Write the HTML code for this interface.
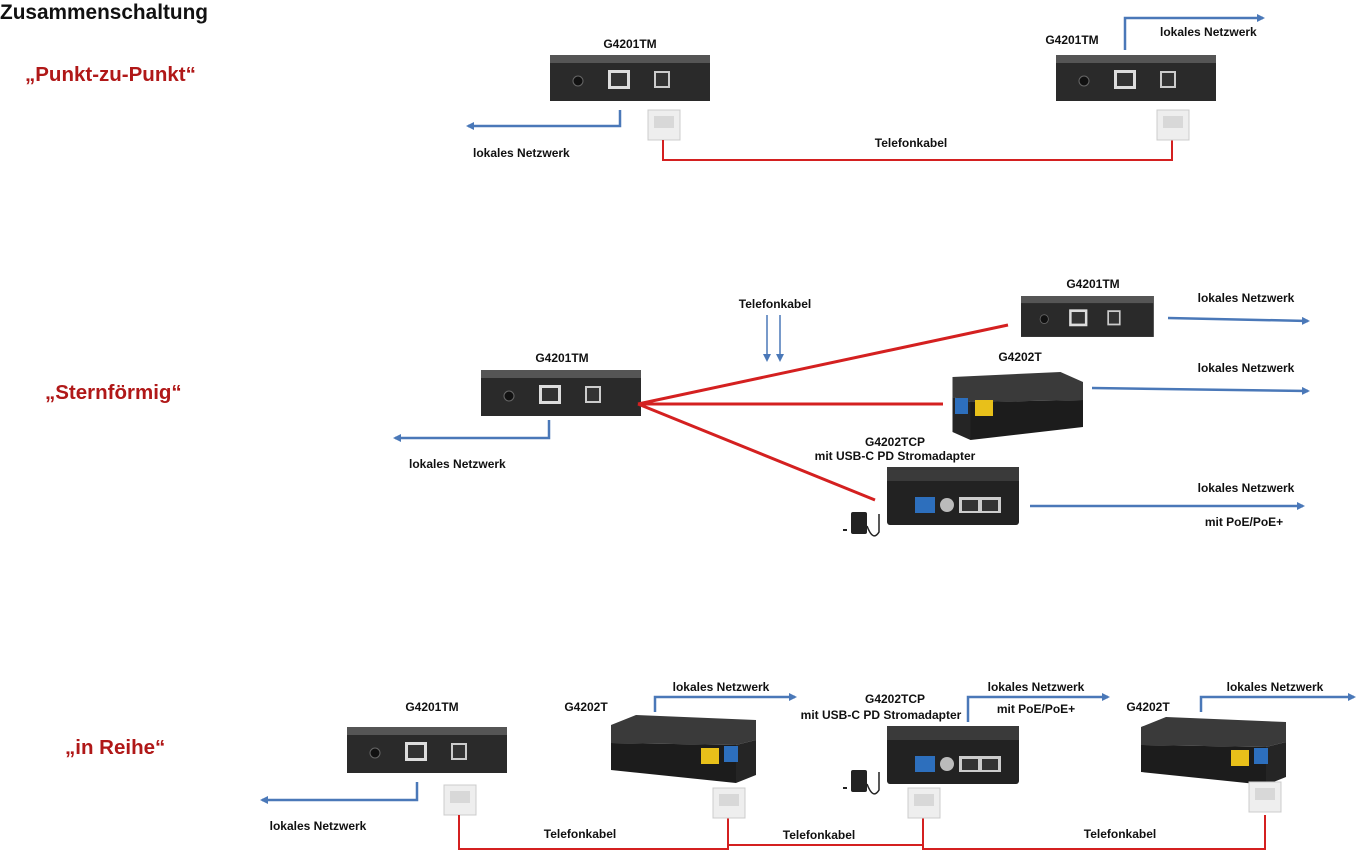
<!DOCTYPE html>
<html><head><meta charset="utf-8"><style>
html,body{margin:0;padding:0;background:#fff;width:1356px;height:855px;overflow:hidden}
svg text{font-family:"Liberation Sans",sans-serif;font-weight:bold;fill:#111}
</style></head><body>
<svg width="1356" height="855" viewBox="0 0 1356 855" xmlns="http://www.w3.org/2000/svg">
<defs>
<marker id="ab" markerWidth="8" markerHeight="8" refX="6" refY="4" orient="auto" markerUnits="userSpaceOnUse"><path d="M0,0 L8,4 L0,8 z" fill="#4a78b8"/></marker>
<g id="tm">
 <rect x="0" y="0" width="160" height="46" fill="#2a2a2a"/>
 <rect x="0" y="0" width="160" height="8" fill="#555"/>
 <circle cx="28" cy="26" r="5" fill="#111" stroke="#666"/>
 <rect x="58" y="15" width="22" height="19" fill="#ddd"/><rect x="61" y="18" width="16" height="13" fill="#333"/>
 <rect x="104" y="16" width="16" height="17" fill="#ccc"/><rect x="106" y="18" width="12" height="13" fill="#333"/>
</g>
<g id="tt">
 <polygon points="0,10 25,0 145,5 145,25 125,30 0,28" fill="#3a3a3a"/>
 <polygon points="0,28 125,30 125,68 0,55" fill="#1c1c1c"/>
 <polygon points="125,30 145,25 145,60 125,68" fill="#252525"/>
</g>
<g id="tcp">
 <rect x="0" y="0" width="132" height="58" rx="3" fill="#222"/>
 <rect x="0" y="0" width="132" height="14" fill="#3a3a3a"/>
 <rect x="28" y="30" width="20" height="16" fill="#2d6fbd"/>
 <circle cx="60" cy="38" r="7" fill="#bbb"/>
 <rect x="72" y="30" width="42" height="16" fill="#ccc"/>
 <rect x="75" y="33" width="16" height="11" fill="#333"/><rect x="95" y="33" width="16" height="11" fill="#333"/>
</g>
<g id="plug">
 <rect x="0" y="0" width="32" height="30" fill="#eee" stroke="#ccc"/>
 <rect x="6" y="6" width="20" height="12" fill="#d8d8d8"/>
</g>
<g id="adp">
 <rect x="8" y="0" width="16" height="22" rx="2" fill="#222"/>
 <line x1="4" y1="18" x2="0" y2="18" stroke="#222" stroke-width="2"/>
 <path d="M24,14 Q30,30 36,20 L36,2" stroke="#222" stroke-width="1.5" fill="none"/>
</g>
</defs>

<text x="0" y="19" font-size="20.8">Zusammenschaltung</text>
<text x="25" y="81" font-size="20.5" style="fill:#b01818">„Punkt-zu-Punkt“</text>
<text x="45" y="399" font-size="20.5" style="fill:#b01818">„Sternförmig“</text>
<text x="65" y="754" font-size="20.5" style="fill:#b01818">„in Reihe“</text>

<g font-size="12">
<text x="630" y="48" text-anchor="middle">G4201TM</text>
<use href="#tm" x="550" y="55"/>
<polyline points="620,110 620,126 468,126" stroke="#4a78b8" stroke-width="2.5" fill="none" marker-end="url(#ab)"/>
<text x="473" y="157">lokales Netzwerk</text>
<use href="#plug" x="648" y="110"/>
<polyline points="663,140 663,160 1172,160 1172,140" stroke="#d42020" stroke-width="2" fill="none"/>
<text x="911" y="147" text-anchor="middle">Telefonkabel</text>
<text x="1072" y="44" text-anchor="middle">G4201TM</text>
<use href="#tm" x="1056" y="55"/>
<polyline points="1125,50 1125,18 1263,18" stroke="#4a78b8" stroke-width="2.5" fill="none" marker-end="url(#ab)"/>
<text x="1160" y="36">lokales Netzwerk</text>
<use href="#plug" x="1157" y="110"/>

<text x="562" y="362" text-anchor="middle">G4201TM</text>
<use href="#tm" x="481" y="370"/>
<polyline points="549,420 549,438 395,438" stroke="#4a78b8" stroke-width="2.5" fill="none" marker-end="url(#ab)"/>
<text x="409" y="468">lokales Netzwerk</text>
<g stroke="#d42020" stroke-width="3"><line x1="638" y1="404" x2="1008" y2="325"/><line x1="638" y1="404" x2="943" y2="404"/><line x1="638" y1="404" x2="875" y2="500"/></g>
<text x="775" y="308" text-anchor="middle">Telefonkabel</text>
<g stroke="#4a78b8" stroke-width="1.5"><line x1="767" y1="315" x2="767" y2="358"/><line x1="780" y1="315" x2="780" y2="358"/></g>
<path d="M763,354 L767,362 L771,354z M776,354 L780,362 L784,354z" fill="#4a78b8"/>
<text x="1093" y="288" text-anchor="middle">G4201TM</text>
<use href="#tm" x="1021" y="296" transform="translate(1021 296) scale(0.83 0.89) translate(-1021 -296)"/>
<line x1="1168" y1="318" x2="1308" y2="321" stroke="#4a78b8" stroke-width="2.5" marker-end="url(#ab)"/>
<text x="1246" y="302" text-anchor="middle">lokales Netzwerk</text>
<text x="1020" y="361" text-anchor="middle">G4202T</text>
<g transform="translate(1083 372) scale(-0.9 1)"><use href="#tt"/></g>
<rect x="955" y="398" width="13" height="16" fill="#2d6fbd"/><rect x="975" y="400" width="18" height="16" fill="#e8c01a"/>
<line x1="1092" y1="388" x2="1308" y2="391" stroke="#4a78b8" stroke-width="2.5" marker-end="url(#ab)"/>
<text x="1246" y="372" text-anchor="middle">lokales Netzwerk</text>
<text x="895" y="446" text-anchor="middle">G4202TCP</text>
<text x="895" y="460" text-anchor="middle">mit USB-C PD Stromadapter</text>
<use href="#tcp" x="887" y="467"/>
<use href="#adp" x="843" y="512"/>
<line x1="1030" y1="506" x2="1303" y2="506" stroke="#4a78b8" stroke-width="2.5" marker-end="url(#ab)"/>
<text x="1246" y="492" text-anchor="middle">lokales Netzwerk</text>
<text x="1244" y="526" text-anchor="middle">mit PoE/PoE+</text>

<text x="432" y="711" text-anchor="middle">G4201TM</text>
<use href="#tm" x="347" y="727"/>
<polyline points="417,782 417,800 262,800" stroke="#4a78b8" stroke-width="2.5" fill="none" marker-end="url(#ab)"/>
<text x="318" y="830" text-anchor="middle">lokales Netzwerk</text>
<use href="#plug" x="444" y="785"/>
<polyline points="459,815 459,849 728,849 728,845 923,845 923,849 1265,849 1265,815" stroke="#d42020" stroke-width="2" fill="none"/>
<line x1="728" y1="818" x2="728" y2="849" stroke="#d42020" stroke-width="2"/>
<line x1="923" y1="818" x2="923" y2="849" stroke="#d42020" stroke-width="2"/>
<text x="580" y="838" text-anchor="middle">Telefonkabel</text>
<text x="819" y="839" text-anchor="middle">Telefonkabel</text>
<text x="1120" y="838" text-anchor="middle">Telefonkabel</text>

<text x="586" y="711" text-anchor="middle">G4202T</text>
<use href="#tt" x="611" y="715"/>
<rect x="701" y="748" width="18" height="16" fill="#e8c01a"/><rect x="724" y="746" width="14" height="16" fill="#2d6fbd"/>
<polyline points="655,712 655,697 795,697" stroke="#4a78b8" stroke-width="2.5" fill="none" marker-end="url(#ab)"/>
<text x="721" y="691" text-anchor="middle">lokales Netzwerk</text>
<use href="#plug" x="713" y="788"/>

<text x="895" y="703" text-anchor="middle">G4202TCP</text>
<text x="881" y="719" text-anchor="middle">mit USB-C PD Stromadapter</text>
<use href="#tcp" x="887" y="726"/>
<use href="#adp" x="843" y="770"/>
<use href="#plug" x="908" y="788"/>
<polyline points="968,722 968,697 1108,697" stroke="#4a78b8" stroke-width="2.5" fill="none" marker-end="url(#ab)"/>
<text x="1036" y="691" text-anchor="middle">lokales Netzwerk</text>
<text x="1036" y="713" text-anchor="middle">mit PoE/PoE+</text>

<text x="1148" y="711" text-anchor="middle">G4202T</text>
<use href="#tt" x="1141" y="717"/>
<rect x="1231" y="750" width="18" height="16" fill="#e8c01a"/><rect x="1254" y="748" width="14" height="16" fill="#2d6fbd"/>
<polyline points="1201,712 1201,697 1354,697" stroke="#4a78b8" stroke-width="2.5" fill="none" marker-end="url(#ab)"/>
<text x="1275" y="691" text-anchor="middle">lokales Netzwerk</text>
<use href="#plug" x="1249" y="782"/>
</g>
</svg>
</body></html>
